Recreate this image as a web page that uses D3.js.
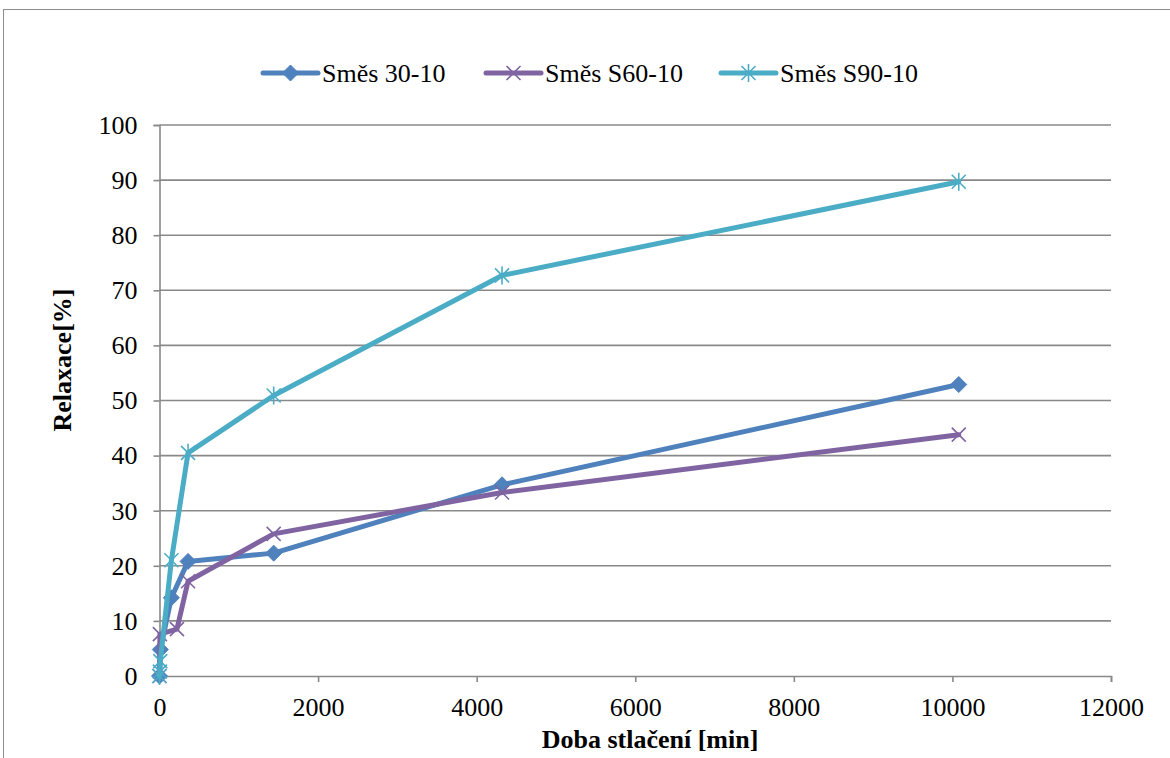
<!DOCTYPE html>
<html>
<head>
<meta charset="utf-8">
<script src="https://cdn.jsdelivr.net/npm/d3@7"></script>
<style>
  html, body { margin: 0; padding: 0; background: #fff; }
  svg { display: block; }
  svg text { font-family: "Liberation Serif", "Times New Roman", Times, "DejaVu Serif", serif; fill: #000; }
</style>
</head>
<body>
<svg id="chart" width="1170" height="758"></svg>
<script>
// Relaxation over compression time for three mixtures
const seriesNames = ["Směs 30-10", "Směs S60-10", "Směs S90-10"];
const timeMix30 = [0, 10, 150, 360, 1440, 4320, 10080];
const relaxMix30 = [0, 4.8, 14.2, 20.8, 22.3, 34.7, 52.9];
const timeMixS60 = [0, 5, 220, 360, 1440, 4320, 10080];
const relaxMixS60 = [0, 7.6, 8.5, 17.2, 25.8, 33.3, 43.8];
const timeMixS90 = [0, 5, 10, 150, 360, 1440, 4320, 10080];
const relaxMixS90 = [0, 0.8, 2.7, 21.0, 40.5, 50.9, 72.7, 89.7];
const xTicks = [0, 2000, 4000, 6000, 8000, 10000, 12000];
const yTicks = [0, 10, 20, 30, 40, 50, 60, 70, 80, 90, 100];
const colors = ["#4F81BD", "#8064A2", "#4BACC6"];
const markerKinds = ["diamond", "cross", "star"];

const series = [
  { name: seriesNames[0], t: timeMix30, v: relaxMix30 },
  { name: seriesNames[1], t: timeMixS60, v: relaxMixS60 },
  { name: seriesNames[2], t: timeMixS90, v: relaxMixS90 }
].map((s, i) => ({
  name: s.name,
  color: colors[i],
  marker: markerKinds[i],
  points: s.t.map((t, j) => ({ x: t, y: s.v[j] }))
}));

const serif = '"Liberation Serif", "Times New Roman", Times, "DejaVu Serif", serif';
const svg = d3.select("#chart");
const plotLeft = 159.5, plotRight = 1111, plotTop = 125, plotBottom = 676;
const x = d3.scaleLinear().domain([0, 12000]).range([plotLeft, plotRight]);
const y = d3.scaleLinear().domain([0, 100]).range([plotBottom, plotTop]);
const gridColor = "#898989";

// chart area frame
svg.append("rect")
  .attr("x", 3.5).attr("y", 9.5)
  .attr("width", 1200).attr("height", 800)
  .attr("fill", "#fff").attr("stroke", "#8c8c8c").attr("stroke-width", 1);

// horizontal gridlines
svg.append("g").selectAll("line").data(yTicks.filter(d => d > 0)).join("line")
  .attr("x1", plotLeft).attr("x2", plotRight)
  .attr("y1", d => y(d)).attr("y2", d => y(d))
  .attr("stroke", gridColor).attr("stroke-width", 1.6);

// y axis
const yAxis = svg.append("g")
  .attr("transform", `translate(${plotLeft},0)`)
  .call(d3.axisLeft(y).tickValues(yTicks).tickSize(6).tickPadding(16).tickFormat(d3.format("d")));
yAxis.attr("font-family", null).attr("font-size", null);
yAxis.select(".domain").attr("stroke", gridColor).attr("stroke-width", 1.6);
yAxis.selectAll(".tick line").attr("stroke", gridColor).attr("stroke-width", 1.6);
yAxis.selectAll(".tick text")
  .style("font-family", serif).style("font-size", "26px").attr("fill", "#000");

// x axis
const xAxis = svg.append("g")
  .attr("transform", `translate(0,${plotBottom})`)
  .call(d3.axisBottom(x).tickValues(xTicks).tickSize(6).tickPadding(16).tickFormat(d3.format("d")));
xAxis.attr("font-family", null).attr("font-size", null);
xAxis.select(".domain").attr("stroke", gridColor).attr("stroke-width", 1.6);
xAxis.selectAll(".tick line").attr("stroke", gridColor).attr("stroke-width", 1.6);
xAxis.selectAll(".tick text")
  .style("font-family", serif).style("font-size", "26px").attr("fill", "#000");

// axis titles
svg.append("text")
  .attr("x", 650).attr("y", 748)
  .attr("text-anchor", "middle")
  .style("font-family", serif).style("font-size", "26px").style("font-weight", "bold")
  .text("Doba stlačení [min]");
svg.append("text")
  .attr("transform", "translate(71,360) rotate(-90)")
  .attr("text-anchor", "middle")
  .style("font-family", serif).style("font-size", "26px").style("font-weight", "bold")
  .text("Relaxace[%]");

// marker shapes
function drawMarker(g, kind, color, cx, cy) {
  const r = 8;
  if (kind === "diamond") {
    g.append("path")
      .attr("d", `M${cx},${cy - r}L${cx + r},${cy}L${cx},${cy + r}L${cx - r},${cy}Z`)
      .attr("fill", color).attr("stroke", color).attr("stroke-width", 1);
  } else if (kind === "cross") {
    const a = 7;
    g.append("path")
      .attr("d", `M${cx - a},${cy - a}L${cx + a},${cy + a}M${cx - a},${cy + a}L${cx + a},${cy - a}`)
      .attr("fill", "none").attr("stroke", color).attr("stroke-width", 1.6);
  } else {
    const a = 7;
    g.append("path")
      .attr("d", `M${cx - a},${cy - a}L${cx + a},${cy + a}M${cx - a},${cy + a}L${cx + a},${cy - a}M${cx},${cy - 9}L${cx},${cy + 9}`)
      .attr("fill", "none").attr("stroke", color).attr("stroke-width", 1.6);
  }
}

const line = d3.line().x(d => x(d.x)).y(d => y(d.y));
series.forEach(s => {
  const g = svg.append("g");
  g.append("path").datum(s.points)
    .attr("d", line)
    .attr("fill", "none").attr("stroke", s.color)
    .attr("stroke-width", 5).attr("stroke-linejoin", "round").attr("stroke-linecap", "round");
  s.points.forEach(p => drawMarker(g, s.marker, s.color, x(p.x), y(p.y)));
});

// legend
const legendX = [263, 486, 721];
const legendY = 73;
series.forEach((s, i) => {
  const g = svg.append("g");
  g.append("line")
    .attr("x1", legendX[i]).attr("x2", legendX[i] + 55)
    .attr("y1", legendY).attr("y2", legendY)
    .attr("stroke", s.color).attr("stroke-width", 5).attr("stroke-linecap", "round");
  drawMarker(g, s.marker, s.color, legendX[i] + 27.5, legendY);
  g.append("text")
    .attr("x", legendX[i] + 59).attr("y", legendY + 9)
    .style("font-family", serif).style("font-size", "26px")
    .text(s.name);
});
</script>
</body>
</html>
